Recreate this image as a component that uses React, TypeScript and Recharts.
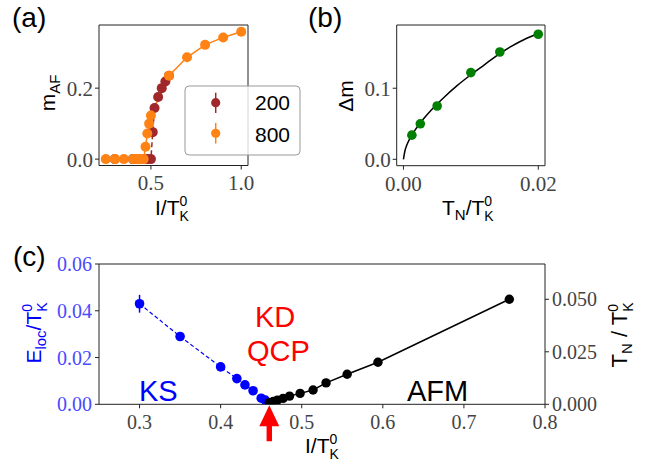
import { ComposedChart, Line, XAxis, YAxis, ReferenceArea, ReferenceDot, ErrorBar } from 'recharts'

const serif = '"Liberation Serif", "DejaVu Serif", serif'
const sans = '"Liberation Sans", Arial, sans-serif'

// (a) m_AF vs I/T_K^0 for two sizes
const aI200 = [0.3, 0.4, 0.45, 0.48, 0.5, 0.51, 0.52, 0.54, 0.56, 0.58, 0.6]
const aM200 = [0, 0, 0, 0, 0, 0.076, 0.144, 0.175, 0.2, 0.219, 0.235]
const aI800 = [0.25, 0.3, 0.35, 0.4, 0.42, 0.43, 0.44, 0.45, 0.46, 0.47, 0.48, 0.49, 0.5, 0.6, 0.7, 0.8, 0.9, 1.0]
const aM800 = [0, 0, 0, 0, 0, 0, 0, 0, 0, 0.035, 0.072, 0.1, 0.123, 0.235, 0.287, 0.322, 0.343, 0.359]
const aTicksX = [0.5, 1.0]
const aTicksY = [0, 0.2]

// (b) delta m vs T_N/T_K^0
const bTn = [0.00125, 0.0025, 0.005, 0.01, 0.0143, 0.02]
const bDm = [0.034, 0.05, 0.075, 0.122, 0.151, 0.176]
const bFitT = [0, 0.0002, 0.0005, 0.001, 0.002, 0.004, 0.006, 0.008, 0.01, 0.012, 0.014, 0.016, 0.018, 0.02]
const bFitDm = [0, 0.011, 0.02, 0.03, 0.045, 0.068, 0.087, 0.104, 0.119, 0.133, 0.147, 0.159, 0.169, 0.177]
const bTicksX = [0, 0.02]
const bTicksY = [0, 0.1]

// (c) E_loc (KS side) and T_N (AFM side)
const cIks = [0.3, 0.35, 0.4, 0.42, 0.43, 0.44, 0.45, 0.455]
const cEloc = [0.043, 0.029, 0.016, 0.011, 0.0083, 0.0058, 0.0026, 0.0018]
const cElocErr = [0.0038, 0.0008, 0.0006, 0.0004, 0.0003, 0.0003, 0.0002, 0.0002]
const cIafm = [0.46, 0.465, 0.47, 0.477, 0.485, 0.498, 0.514, 0.53, 0.556, 0.594, 0.756]
const cTn = [0.0008, 0.0014, 0.002, 0.0028, 0.0039, 0.0052, 0.0068, 0.0102, 0.0143, 0.02, 0.05]
const cTicksX = [0.3, 0.4, 0.5, 0.6, 0.7, 0.8]
const cTicksL = [0, 0.02, 0.04, 0.06]
const cTicksR = [0, 0.025, 0.05]
const qcpI = 0.46

const rows = (xs: number[], ys: number[], err?: number[]) =>
  xs.map((x, i) => ({ x, y: ys[i], err: err ? err[i] : 0 }))

const tickAB = { fontFamily: serif, fontSize: 21, fill: '#444' }
const tickC = { fontFamily: serif, fontSize: 20, fill: '#444' }
const tl = { stroke: '#222' }
const abs = { position: 'absolute' as const, left: 0, top: 0 }

function PanelA() {
  return (
    <div style={abs}>
      <ComposedChart width={665} height={466} margin={{ top: 25, right: 417, bottom: 270.5, left: 49 }}>
        <XAxis type="number" dataKey="x" domain={[0.2125, 1.0375]} allowDataOverflow ticks={aTicksX}
          tickFormatter={(v) => v.toFixed(1)} axisLine={false} tickLine={tl} tickSize={4} tickMargin={6} height={30} tick={tickAB} />
        <YAxis type="number" domain={[-0.018, 0.378]} allowDataOverflow ticks={aTicksY}
          tickFormatter={(v) => v.toFixed(1)} axisLine={false} tickLine={tl} tickSize={4} tickMargin={2} width={50} tick={tickAB} />
        <ReferenceArea x1={0.2125} x2={1.0375} y1={-0.018} y2={0.378} fill="none" stroke="#222" strokeWidth={1} ifOverflow="visible" />
        <Line data={rows(aI200, aM200)} dataKey="y" stroke="#a0282a" strokeWidth={1.5} strokeDasharray="5 3"
          dot={{ r: 5, fill: '#a0282a', stroke: 'none' }} activeDot={false} isAnimationActive={false} />
        <Line data={rows(aI800, aM800)} dataKey="y" stroke="#ff8214" strokeWidth={1.5}
          dot={{ r: 5, fill: '#ff8214', stroke: 'none' }} activeDot={false} isAnimationActive={false} />
      </ComposedChart>
    </div>
  )
}

function PanelB() {
  return (
    <div style={abs}>
      <ComposedChart width={665} height={466} margin={{ top: 25, right: 120, bottom: 270.3, left: 346.7 }}>
        <XAxis type="number" dataKey="x" domain={[-0.001, 0.021]} allowDataOverflow ticks={bTicksX}
          tickFormatter={(v) => v.toFixed(2)} axisLine={false} tickLine={tl} tickSize={4} tickMargin={6} height={30} tick={tickAB} />
        <YAxis type="number" domain={[-0.009, 0.189]} allowDataOverflow ticks={bTicksY}
          tickFormatter={(v) => v.toFixed(1)} axisLine={false} tickLine={tl} tickSize={4} tickMargin={2} width={50} tick={tickAB} />
        <ReferenceArea x1={-0.001} x2={0.021} y1={-0.009} y2={0.189} fill="none" stroke="#222" strokeWidth={1} ifOverflow="visible" />
        <Line data={rows(bFitT, bFitDm)} dataKey="y" type="monotone" stroke="#000" strokeWidth={1.5}
          dot={false} activeDot={false} isAnimationActive={false} />
        <Line data={rows(bTn, bDm)} dataKey="y" stroke="none"
          dot={{ r: 4.8, fill: '#008000', stroke: 'none' }} activeDot={false} isAnimationActive={false} />
      </ComposedChart>
    </div>
  )
}

function QcpArrow(p: any) {
  const { cx, cy } = p
  if (cx == null || cy == null) return null
  const d = `M${cx},${cy + 1} L${cx + 10},${cy + 22} L${cx + 2.7},${cy + 22} L${cx + 2.7},${cy + 37} L${cx - 2.7},${cy + 37} L${cx - 2.7},${cy + 22} L${cx - 10},${cy + 22} Z`
  return <path d={d} fill="#ff0000" />
}

function PanelC() {
  return (
    <div style={abs}>
      <ComposedChart width={665} height={466} margin={{ top: 264, right: 60, bottom: 31.7, left: 49 }}>
        <XAxis type="number" dataKey="x" domain={[0.25, 0.8]} allowDataOverflow ticks={cTicksX}
          tickFormatter={(v) => v.toFixed(1)} axisLine={false} tickLine={tl} tickSize={4} tickMargin={6} height={30} tick={tickC} />
        <YAxis yAxisId="left" type="number" domain={[0, 0.06]} allowDataOverflow ticks={cTicksL}
          tickFormatter={(v) => v.toFixed(2)} axisLine={false} tickLine={tl} tickSize={4} tickMargin={3} width={50}
          tick={{ ...tickC, fill: '#4a4aff' }} />
        <YAxis yAxisId="right" orientation="right" type="number" domain={[0, 0.0668]} allowDataOverflow ticks={cTicksR}
          tickFormatter={(v) => v.toFixed(3)} axisLine={false} tickLine={tl} tickSize={4} tickMargin={3} width={60} tick={tickC} />
        <ReferenceArea yAxisId="left" x1={0.25} x2={0.8} y1={0} y2={0.06} fill="none" stroke="#222" strokeWidth={1} ifOverflow="visible" />
        <Line yAxisId="left" data={rows(cIks, cEloc, cElocErr)} dataKey="y" stroke="#0000ff" strokeWidth={1.2} strokeDasharray="4 2.5"
          dot={{ r: 4.8, fill: '#0000ff', stroke: 'none' }} activeDot={false} isAnimationActive={false}>
          <ErrorBar dataKey="err" direction="y" width={0} stroke="#0000ff" strokeWidth={1.5} />
        </Line>
        <Line yAxisId="right" data={rows(cIafm, cTn)} dataKey="y" stroke="#000" strokeWidth={1.5}
          dot={{ r: 4.7, fill: '#000', stroke: 'none' }} activeDot={false} isAnimationActive={false} />
        <ReferenceDot yAxisId="left" x={qcpI} y={0} ifOverflow="visible" shape={QcpArrow} />
      </ComposedChart>
    </div>
  )
}

// superscript 0 stacked over subscript K, as matplotlib draws T_K^0
function SupSub({ s = 14 }: { s?: number }) {
  return (
    <>
      <tspan dy={-9} fontSize={s}>0</tspan>
      <tspan dx={-7.8} dy={15} fontSize={s}>K</tspan>
    </>
  )
}

function Overlay() {
  const s = 15
  return (
    <svg width={665} height={466} style={{ ...abs, pointerEvents: 'none' }} fontFamily={sans}>
      {/* panel letters */}
      <text x={12} y={27} fontSize={28}>(a)</text>
      <text x={308} y={27} fontSize={28}>(b)</text>
      <text x={13} y={266} fontSize={28}>(c)</text>

      {/* axis labels */}
      <text x={155} y={215} fontSize={21}>
        I/T<SupSub />
      </text>
      <text x={442} y={215} fontSize={21}>
        T<tspan dy={5} fontSize={s}>N</tspan><tspan dy={-5}>/T</tspan><SupSub />
      </text>
      <text x={305} y={453} fontSize={21}>
        I/T<SupSub />
      </text>
      <text transform="translate(55,93) rotate(-90)" textAnchor="middle" fontSize={21}>
        m<tspan dy={5} fontSize={s}>AF</tspan>
      </text>
      <text transform="translate(353,96) rotate(-90)" textAnchor="middle" fontSize={21}>Δm</text>
      <text transform="translate(41,333) rotate(-90)" textAnchor="middle" fontSize={21} fill="#0000ff">
        E<tspan dy={5} fontSize={s}>loc</tspan><tspan dy={-5}>/T</tspan><SupSub />
      </text>
      <text transform="translate(627,335) rotate(-90)" textAnchor="middle" fontSize={22}>
        T<tspan dy={5} fontSize={s}>N</tspan><tspan dy={-5}>{' / T'}</tspan><SupSub />
      </text>

      {/* legend of (a) */}
      <rect x={185} y={86} width={115} height={69} rx={4} fill="#fff" fillOpacity={0.8} stroke="#999" />
      <line x1={215.7} x2={215.7} y1={92.7} y2={113} stroke="#a0282a" strokeWidth={1.5} />
      <circle cx={215.7} cy={102.7} r={4.6} fill="#a0282a" />
      <line x1={215.7} x2={215.7} y1={123} y2={143.5} stroke="#ff8214" strokeWidth={1.5} />
      <circle cx={215.7} cy={133.3} r={4.6} fill="#ff8214" />
      <text x={255} y={110} fontSize={21}>200</text>
      <text x={255} y={141.7} fontSize={21}>800</text>

      {/* phase labels in (c) */}
      <text x={139} y={401} fontSize={29} fill="#0000ff">KS</text>
      <text x={255} y={326.5} fontSize={29} fill="#ff0000">KD</text>
      <text x={247} y={361} fontSize={29} fill="#ff0000">QCP</text>
      <text x={407} y={401} fontSize={29} fill="#000">AFM</text>
    </svg>
  )
}

export default function App() {
  return (
    <div style={{ ...abs, width: 665, height: 466, background: '#fff' }}>
      <PanelA />
      <PanelB />
      <PanelC />
      <Overlay />
    </div>
  )
}
